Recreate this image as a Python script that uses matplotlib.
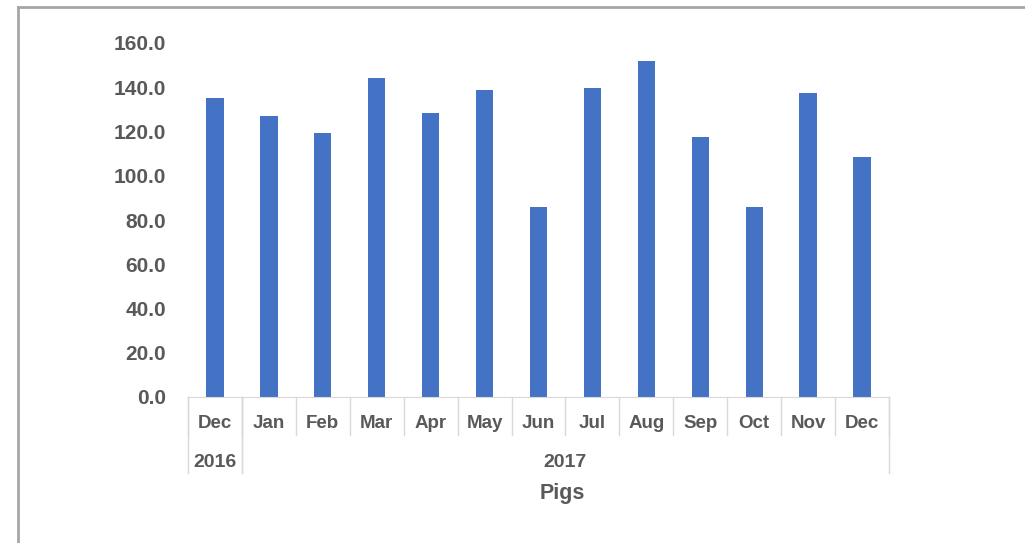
import matplotlib.pyplot as plt
from matplotlib.lines import Line2D
import matplotlib.transforms as mtransforms

months = ["Dec", "Jan", "Feb", "Mar", "Apr", "May", "Jun",
          "Jul", "Aug", "Sep", "Oct", "Nov", "Dec"]
years = ["2016", "2017"]
year_spans = [(0, 0), (1, 12)]
pigs = [135.2, 127.1, 119.4, 144.2, 128.4, 138.8, 86.1,
        139.7, 151.9, 117.6, 86.1, 137.5, 108.6]

TEXT = "#595959"
GRID = "#D9D9D9"
BAR = "#4472C4"

plt.rcParams['font.family'] = ['Liberation Sans', 'DejaVu Sans']

fig = plt.figure(figsize=(10.25, 5.43), dpi=100)
ax = fig.add_axes([188 / 1025, 1 - 397 / 543, (889 - 188) / 1025, (397 - 43) / 543])

x = list(range(len(months)))
ax.bar(x, pigs, width=0.32, color=BAR)
ax.set_xlim(-0.5, len(months) - 0.5)
ax.set_ylim(0, 160)
ax.set_yticks(range(0, 161, 20))
ax.set_yticklabels([f"{v:.1f}" for v in range(0, 161, 20)])
ax.tick_params(axis='y', length=0, pad=16, labelsize=15, labelcolor=TEXT)
for lab in ax.get_yticklabels():
    lab.set_fontweight('bold')
ax.set_xticks([])
for s in ["top", "right", "left"]:
    ax.spines[s].set_visible(False)
ax.spines["bottom"].set_color(GRID)

trans = mtransforms.blended_transform_factory(ax.transData, ax.transAxes)
# month row separators
for i in range(len(months) + 1):
    ax.add_line(Line2D([i - 0.5, i - 0.5], [0, -0.107], transform=trans,
                       color=GRID, lw=1, clip_on=False))
for i, m in enumerate(months):
    ax.text(i, -0.075, m, transform=trans, ha='center', va='center',
            fontsize=13.5, fontweight='bold', color=TEXT)
# year row
for (a, b), yr in zip(year_spans, years):
    for edge in (a - 0.5, b + 0.5):
        ax.add_line(Line2D([edge, edge], [0, -0.215], transform=trans,
                           color=GRID, lw=1, clip_on=False))
    ax.text((a + b) / 2, -0.186, yr, transform=trans, ha='center', va='center',
            fontsize=14, fontweight='bold', color=TEXT)

fig.text(562 / 1025, 1 - 493 / 543, "Pigs", ha='center', va='center',
         fontsize=15.5, fontweight='bold', color=TEXT)

# outer chart border
fig.add_artist(Line2D([18 / 1025, 18 / 1025], [0, 1 - 6.5 / 543],
                      transform=fig.transFigure, color="#A6A6A6", lw=2))
fig.add_artist(Line2D([18 / 1025, 1], [1 - 6.5 / 543, 1 - 6.5 / 543],
                      transform=fig.transFigure, color="#A6A6A6", lw=2))

fig.savefig("out.png", dpi=100)
